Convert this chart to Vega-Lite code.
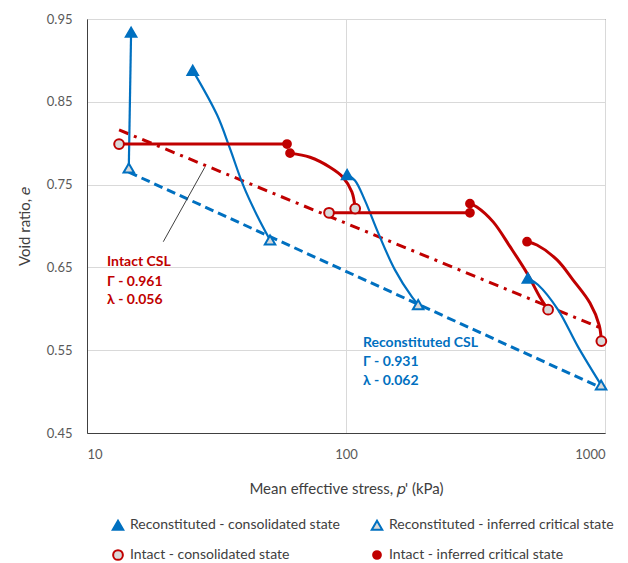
{
  "$schema": "https://vega.github.io/schema/vega-lite/v6.json",
  "width": 518,
  "height": 414,
  "autosize": "none",
  "padding": {"left": 87, "top": 19, "right": 23, "bottom": 130},
  "background": "white",
  "datasets": {
    "paths": [
      {"path": "B1", "grp": "Reconstituted", "o": 1, "p": 14.8, "e": 0.934},
      {"path": "B1", "grp": "Reconstituted", "o": 2, "p": 14.5, "e": 0.770},
      {"path": "B2", "grp": "Reconstituted", "o": 1, "p": 25.6, "e": 0.888},
      {"path": "B2", "grp": "Reconstituted", "o": 2, "p": 31.8, "e": 0.834},
      {"path": "B2", "grp": "Reconstituted", "o": 3, "p": 35.6, "e": 0.794},
      {"path": "B2", "grp": "Reconstituted", "o": 4, "p": 40.0, "e": 0.750},
      {"path": "B2", "grp": "Reconstituted", "o": 5, "p": 45.3, "e": 0.713},
      {"path": "B2", "grp": "Reconstituted", "o": 6, "p": 50.9, "e": 0.683},
      {"path": "B3", "grp": "Reconstituted", "o": 1, "p": 101, "e": 0.762},
      {"path": "B3", "grp": "Reconstituted", "o": 2, "p": 108.3, "e": 0.755},
      {"path": "B3", "grp": "Reconstituted", "o": 3, "p": 118.3, "e": 0.731},
      {"path": "B3", "grp": "Reconstituted", "o": 4, "p": 133, "e": 0.692},
      {"path": "B3", "grp": "Reconstituted", "o": 5, "p": 154.5, "e": 0.647},
      {"path": "B3", "grp": "Reconstituted", "o": 6, "p": 180, "e": 0.614},
      {"path": "B3", "grp": "Reconstituted", "o": 7, "p": 190, "e": 0.605},
      {"path": "B4", "grp": "Reconstituted", "o": 1, "p": 504, "e": 0.637},
      {"path": "B4", "grp": "Reconstituted", "o": 2, "p": 551, "e": 0.629},
      {"path": "B4", "grp": "Reconstituted", "o": 3, "p": 658, "e": 0.599},
      {"path": "B4", "grp": "Reconstituted", "o": 4, "p": 787, "e": 0.554},
      {"path": "B4", "grp": "Reconstituted", "o": 5, "p": 966, "e": 0.508},
      {"path": "R1", "grp": "Intact", "o": 1, "p": 13.3, "e": 0.799},
      {"path": "R1", "grp": "Intact", "o": 2, "p": 59.2, "e": 0.799},
      {"path": "R2", "grp": "Intact", "o": 1, "p": 60.8, "e": 0.788},
      {"path": "R2", "grp": "Intact", "o": 2, "p": 72.6, "e": 0.783},
      {"path": "R2", "grp": "Intact", "o": 3, "p": 86.7, "e": 0.771},
      {"path": "R2", "grp": "Intact", "o": 4, "p": 97.3, "e": 0.759},
      {"path": "R2", "grp": "Intact", "o": 5, "p": 105.4, "e": 0.741},
      {"path": "R2", "grp": "Intact", "o": 6, "p": 108.5, "e": 0.721},
      {"path": "R3", "grp": "Intact", "o": 1, "p": 86, "e": 0.716},
      {"path": "R3", "grp": "Intact", "o": 2, "p": 301, "e": 0.716},
      {"path": "R4", "grp": "Intact", "o": 1, "p": 301, "e": 0.727},
      {"path": "R4", "grp": "Intact", "o": 2, "p": 320, "e": 0.723},
      {"path": "R4", "grp": "Intact", "o": 3, "p": 370, "e": 0.705},
      {"path": "R4", "grp": "Intact", "o": 4, "p": 430, "e": 0.675},
      {"path": "R4", "grp": "Intact", "o": 5, "p": 500, "e": 0.643},
      {"path": "R4", "grp": "Intact", "o": 6, "p": 561, "e": 0.614},
      {"path": "R4", "grp": "Intact", "o": 7, "p": 603, "e": 0.599},
      {"path": "R5", "grp": "Intact", "o": 1, "p": 500, "e": 0.681},
      {"path": "R5", "grp": "Intact", "o": 2, "p": 546, "e": 0.677},
      {"path": "R5", "grp": "Intact", "o": 3, "p": 653, "e": 0.659},
      {"path": "R5", "grp": "Intact", "o": 4, "p": 752, "e": 0.635},
      {"path": "R5", "grp": "Intact", "o": 5, "p": 875, "e": 0.607},
      {"path": "R5", "grp": "Intact", "o": 6, "p": 950, "e": 0.580},
      {"path": "R5", "grp": "Intact", "o": 7, "p": 968, "e": 0.561}
    ],
    "pts": [
      {"series": "Reconstituted - consolidated state", "p": 14.8, "e": 0.934},
      {"series": "Reconstituted - consolidated state", "p": 25.6, "e": 0.888},
      {"series": "Reconstituted - consolidated state", "p": 101, "e": 0.762},
      {"series": "Reconstituted - consolidated state", "p": 504, "e": 0.637},
      {"series": "Reconstituted - inferred critical state", "p": 14.5, "e": 0.770},
      {"series": "Reconstituted - inferred critical state", "p": 50.9, "e": 0.683},
      {"series": "Reconstituted - inferred critical state", "p": 190, "e": 0.605},
      {"series": "Reconstituted - inferred critical state", "p": 966, "e": 0.508},
      {"series": "Intact - consolidated state", "p": 13.3, "e": 0.799},
      {"series": "Intact - consolidated state", "p": 86, "e": 0.716},
      {"series": "Intact - consolidated state", "p": 108.5, "e": 0.721},
      {"series": "Intact - consolidated state", "p": 603, "e": 0.599},
      {"series": "Intact - consolidated state", "p": 968, "e": 0.561},
      {"series": "Intact - inferred critical state", "p": 59.2, "e": 0.799},
      {"series": "Intact - inferred critical state", "p": 60.8, "e": 0.788},
      {"series": "Intact - inferred critical state", "p": 301, "e": 0.727},
      {"series": "Intact - inferred critical state", "p": 301, "e": 0.716},
      {"series": "Intact - inferred critical state", "p": 500, "e": 0.681}
    ],
    "csl": [
      {"grp": "Intact", "p": 13.3, "e": 0.816},
      {"grp": "Intact", "p": 960, "e": 0.577},
      {"grp": "Reconstituted", "p": 14.5, "e": 0.765},
      {"grp": "Reconstituted", "p": 960, "e": 0.505}
    ],
    "leader": [
      {"p": 28.5, "e": 0.771},
      {"p": 19.7, "e": 0.681}
    ],
    "labels": [
      {"grp": "Intact", "p": 11.95, "e": 0.6565, "text": "Intact CSL"},
      {"grp": "Intact", "p": 11.95, "e": 0.632, "text": "Γ - 0.961"},
      {"grp": "Intact", "p": 11.95, "e": 0.6106, "text": "λ - 0.056"},
      {"grp": "Reconstituted", "p": 116.3, "e": 0.559, "text": "Reconstituted CSL"},
      {"grp": "Reconstituted", "p": 116.3, "e": 0.5357, "text": "Γ - 0.931"},
      {"grp": "Reconstituted", "p": 116.3, "e": 0.513, "text": "λ - 0.062"}
    ]
  },
  "config": {
    "font": "Lato",
    "view": {"stroke": "#404040", "strokeWidth": 1},
    "axis": {
      "labelFont": "Lato", "labelFontSize": 13, "labelColor": "#595959",
      "titleFont": "Lato", "titleFontSize": 15, "titleColor": "#404040", "titleFontWeight": "normal",
      "ticks": false, "domainColor": "#404040", "gridColor": "#D9D9D9", "gridWidth": 1
    },
    "legend": {
      "orient": "none", "legendX": 24, "legendY": 499,
      "columns": 2, "direction": "horizontal", "labelLimit": 0,
      "labelFont": "Lato", "labelFontSize": 14, "labelColor": "#404040",
      "columnPadding": 27, "rowPadding": 12, "symbolStrokeWidth": 2, "labelOffset": 5
    }
  },
  "encoding": {
    "x": {"field": "p", "type": "quantitative",
      "scale": {"type": "log", "domain": [10, 1000], "nice": false},
      "axis": {"values": [10, 100, 1000], "format": "d", "grid": true, "labelPadding": 15, "titlePadding": 20,
        "title": "Mean effective stress, 𝑝' (kPa)"}},
    "y": {"field": "e", "type": "quantitative",
      "scale": {"domain": [0.45, 0.95], "nice": false, "zero": false},
      "axis": {"values": [0.45, 0.55, 0.65, 0.75, 0.85, 0.95], "format": ".2f", "grid": true, "labelPadding": 15, "titlePadding": 14,
        "title": "Void ratio, 𝑒"}}
  },
  "layer": [
    {
      "data": {"name": "csl"},
      "mark": {"type": "line", "strokeWidth": 3},
      "encoding": {
        "detail": {"field": "grp"},
        "color": {"field": "grp", "type": "nominal", "scale": {"domain": ["Intact", "Reconstituted"], "range": ["#C00000", "#0070C0"]}, "legend": null},
        "strokeDash": {"field": "grp", "type": "nominal", "scale": {"domain": ["Intact", "Reconstituted"], "range": [[10, 6, 3, 6], [9, 5]]}, "legend": null}
      }
    },
    {
      "data": {"name": "leader"},
      "mark": {"type": "line", "color": "#404040", "strokeWidth": 1},
      "encoding": {}
    },
    {
      "data": {"name": "paths"},
      "mark": {"type": "line", "interpolate": "catmull-rom"},
      "encoding": {
        "detail": {"field": "path"},
        "order": {"field": "o", "type": "quantitative"},
        "color": {"field": "grp", "type": "nominal", "scale": {"domain": ["Intact", "Reconstituted"], "range": ["#C00000", "#0070C0"]}, "legend": null},
        "strokeWidth": {"field": "grp", "type": "nominal", "scale": {"type": "ordinal", "domain": ["Intact", "Reconstituted"], "range": [3, 2.2]}, "legend": null}
      }
    },
    {
      "data": {"name": "pts"},
      "mark": {"type": "point", "opacity": 1, "strokeWidth": 2},
      "encoding": {
        "shape": {"field": "series", "type": "nominal", "title": null,
          "scale": {"domain": ["Reconstituted - consolidated state", "Reconstituted - inferred critical state", "Intact - consolidated state", "Intact - inferred critical state"],
            "range": ["triangle-up", "triangle-up", "circle", "circle"]}},
        "fill": {"field": "series", "type": "nominal", "title": null,
          "scale": {"domain": ["Reconstituted - consolidated state", "Reconstituted - inferred critical state", "Intact - consolidated state", "Intact - inferred critical state"],
            "range": ["#0070C0", "#D9D9D9", "#D9D9D9", "#C00000"]}},
        "stroke": {"field": "series", "type": "nominal", "title": null,
          "scale": {"domain": ["Reconstituted - consolidated state", "Reconstituted - inferred critical state", "Intact - consolidated state", "Intact - inferred critical state"],
            "range": ["#0070C0", "#0070C0", "#C00000", "#C00000"]}},
        "size": {"field": "series", "type": "nominal", "title": null,
          "scale": {"type": "ordinal", "domain": ["Reconstituted - consolidated state", "Reconstituted - inferred critical state", "Intact - consolidated state", "Intact - inferred critical state"],
            "range": [110, 110, 95, 60]}}
      }
    },
    {
      "data": {"name": "labels"},
      "mark": {"type": "text", "align": "left", "baseline": "middle", "fontSize": 14, "fontWeight": "bold", "font": "Lato"},
      "encoding": {
        "text": {"field": "text"},
        "color": {"field": "grp", "type": "nominal", "scale": {"domain": ["Intact", "Reconstituted"], "range": ["#C00000", "#0070C0"]}, "legend": null}
      }
    }
  ]
}
